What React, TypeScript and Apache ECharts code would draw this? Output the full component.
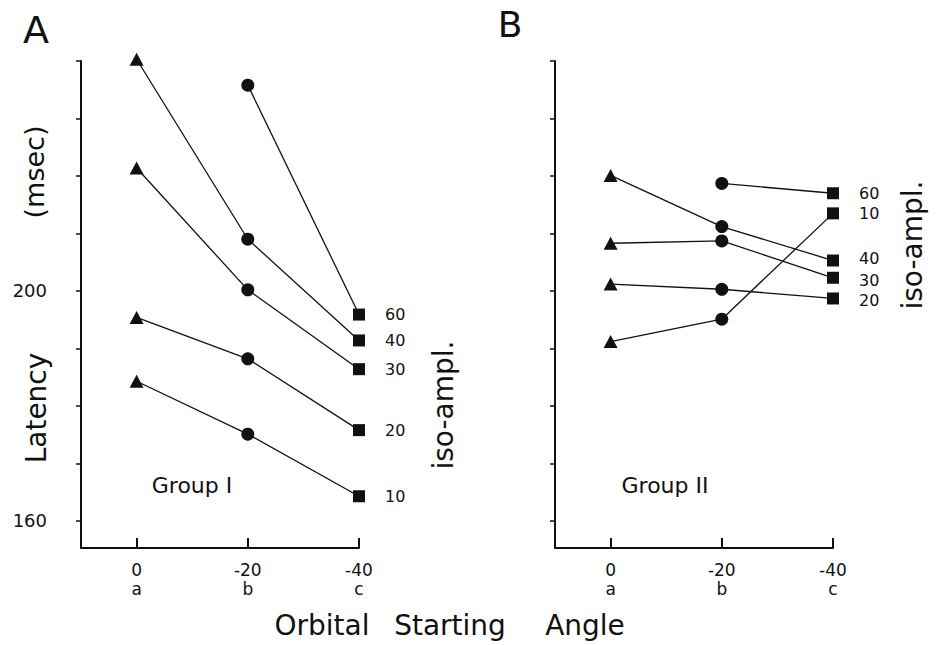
import React, { useEffect, useRef } from "react";
import * as echarts from "echarts";

// Orbital starting angle (deg) and its letter code
const angles = [0, -20, -40];
const angleLetters = ["a", "b", "c"];
// Iso-amplitude levels
const levelsA = ["60", "40", "30", "20", "10"];
const levelsB = ["60", "40", "30", "20", "10"];
// Latency (msec) for angles 0, -20, -40 ; null = not measured
const groupI: (number | null)[][] = [
  [null, 235.8, 195.9],
  [240.3, 209.0, 191.4],
  [221.4, 200.2, 186.4],
  [195.4, 188.2, 175.8],
  [184.3, 175.1, 164.3],
];
const groupII: (number | null)[][] = [
  [null, 218.7, 217.0],
  [220.1, 211.2, 205.3],
  [208.3, 208.7, 202.3],
  [201.2, 200.3, 198.7],
  [191.2, 195.1, 213.5],
];
const yTicks = [160, 170, 180, 190, 200, 210, 220, 230, 240];
const yLabels = [160, 200];

const FONT = "DejaVu Sans";
const INK = "#111";
const symbols = ["triangle", "circle", "rect"];
const symbolSizes = [[14, 13], 13, 12];
// small vertical nudges of end labels (px) so crowded labels stay apart
const labelNudgeA = [0, 0, 0, 0, 0];
const labelNudgeB = [0, -2, 3, 2, 0];

function buildSeries(
  rows: (number | null)[][],
  levels: string[],
  nudges: number[],
  axisIndex: number
) {
  return rows.map((row, ri) => {
    const data: any[] = [];
    row.forEach((v, i) => {
      if (v === null) return;
      const isLast = i === row.length - 1;
      data.push({
        value: [angles[i], v],
        symbol: symbols[i],
        symbolSize: symbolSizes[i],
        label: isLast
          ? {
              show: true,
              position: "right",
              distance: 20,
              offset: [0, nudges[ri]],
              formatter: levels[ri],
              fontSize: 16,
              lineHeight: 14,
              fontFamily: FONT,
              color: INK,
            }
          : { show: false },
      });
    });
    return {
      type: "line",
      xAxisIndex: axisIndex,
      yAxisIndex: axisIndex,
      data,
      clip: false,
      lineStyle: { color: INK, width: 1.3 },
      itemStyle: { color: INK },
      emphasis: { disabled: true },
    };
  });
}

function xAxis(gridIndex: number) {
  return {
    type: "value",
    gridIndex,
    min: -40,
    max: 10,
    inverse: true,
    splitLine: { show: false },
    axisLine: { show: true, onZero: false, lineStyle: { color: INK, width: 2 } },
    axisTick: {
      show: true,
      inside: true,
      length: 10,
      customValues: angles,
      lineStyle: { color: INK, width: 2 },
    },
    axisLabel: {
      customValues: angles,
      formatter: (v: number) => {
        const i = angles.indexOf(v);
        return i >= 0 ? String(v) + "\n" + angleLetters[i] : "";
      },
      fontSize: 17,
      lineHeight: 19,
      margin: 12,
      fontFamily: FONT,
      color: INK,
    },
  };
}

function yAxis(gridIndex: number, showLabels: boolean) {
  return {
    type: "value",
    gridIndex,
    min: 155.3,
    max: 240,
    splitLine: { show: false },
    axisLine: { show: true, onZero: false, lineStyle: { color: INK, width: 2 } },
    axisTick: {
      show: true,
      length: 5,
      customValues: yTicks,
      lineStyle: { color: INK, width: 1.5 },
    },
    axisLabel: {
      show: showLabels,
      customValues: yLabels,
      fontSize: 18,
      margin: 34,
      fontFamily: FONT,
      color: INK,
    },
  };
}

function txt(text: string, x: number, y: number, fontSize: number, rotate = false) {
  return {
    type: "text",
    x,
    y,
    rotation: rotate ? Math.PI / 2 : 0,
    style: {
      text,
      fontSize,
      fontFamily: FONT,
      fill: INK,
      textAlign: "center",
      textVerticalAlign: "middle",
      align: "center",
      verticalAlign: "middle",
    },
  };
}

export default function App() {
  const ref = useRef<HTMLDivElement>(null);
  useEffect(() => {
    if (!ref.current) return;
    const chart = echarts.init(ref.current, null, { renderer: "svg" });
    chart.setOption({
      animation: false,
      backgroundColor: "#fff",
      grid: [
        { left: 81, top: 61, width: 278, height: 487 },
        { left: 555, top: 61, width: 278, height: 487 },
      ],
      xAxis: [xAxis(0), xAxis(1)],
      yAxis: [yAxis(0, true), yAxis(1, false)],
      series: [
        ...buildSeries(groupI, levelsA, labelNudgeA, 0),
        ...buildSeries(groupII, levelsB, labelNudgeB, 1),
      ],
      graphic: [
        txt("A", 36, 30, 38),
        txt("B", 510, 24, 36),
        txt("(msec)", 34, 172, 27, true),
        txt("Latency", 36, 408, 28, true),
        txt("iso-ampl.", 443, 405, 28, true),
        txt("iso-ampl.", 912, 245, 28, true),
        txt("Group I", 192, 485, 22),
        txt("Group II", 665, 485, 22),
        txt("Orbital", 322, 625, 28),
        txt("Starting", 450, 625, 28),
        txt("Angle", 585, 625, 28),
      ],
    });
    return () => chart.dispose();
  }, []);
  return (
    <div
      ref={ref}
      style={{ position: "fixed", left: 0, top: 0, width: 939, height: 645, background: "#fff" }}
    />
  );
}
